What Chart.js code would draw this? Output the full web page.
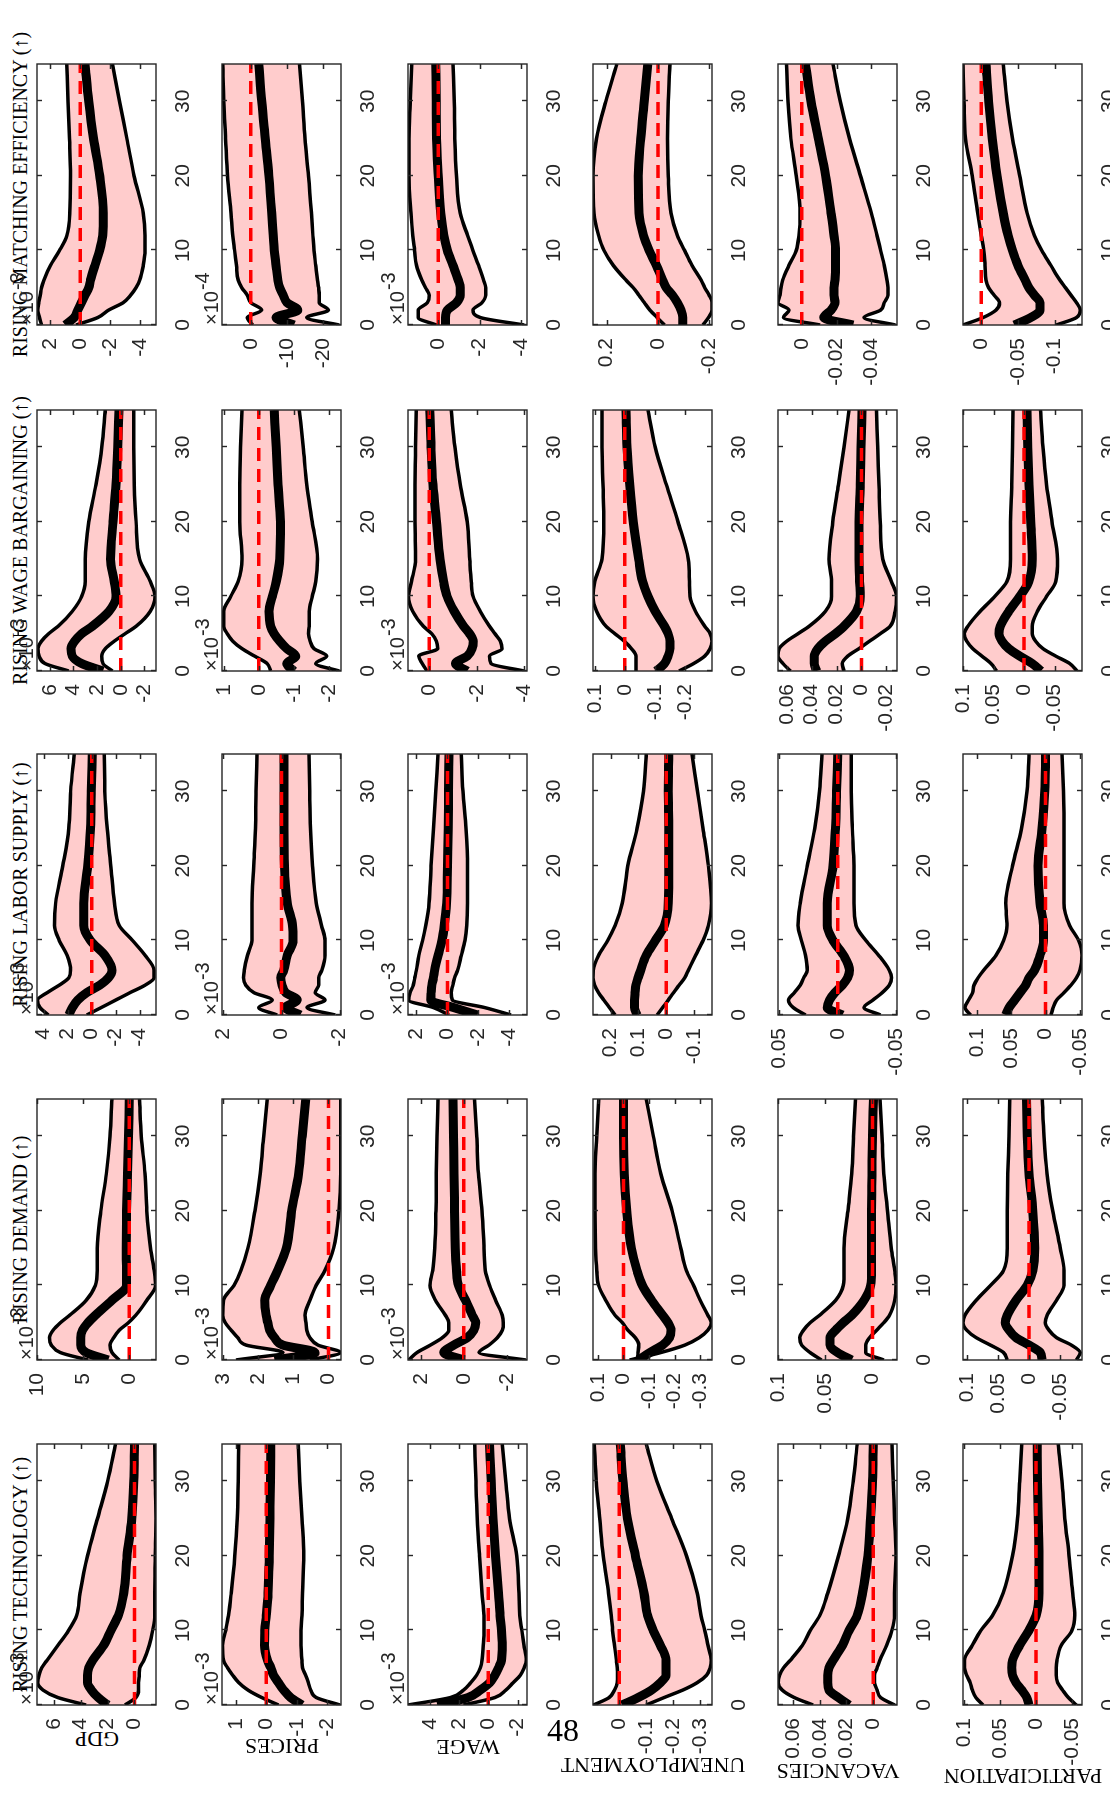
<!DOCTYPE html>
<html>
<head>
<meta charset="utf-8">
<script src="https://cdn.jsdelivr.net/npm/chart.js@4.4.1/dist/chart.umd.min.js"></script>
<style>
html, body { margin: 0; padding: 0; background: #fff; width: 1110px; height: 1796px; overflow: hidden; }
#fig { position: absolute; left: 0; top: 0; width: 1796px; height: 1110px; transform-origin: 0 0; transform: translate(0, 1796px) rotate(-90deg); }
#fig canvas { position: absolute; }
.ttl { position: absolute; font: 20px 'Liberation Serif', serif; line-height: 20px; height: 20px; text-align: center; white-space: nowrap; color: #000; }
.ylab { position: absolute; width: 240px; height: 22px; font: 22px 'Liberation Serif', serif; line-height: 22px; text-align: center; white-space: nowrap; color: #000; transform: rotate(-90deg); }
#pagenum { position: absolute; left: 530px; top: 1712px; width: 66px; text-align: center; font: 32px 'Liberation Serif', serif; line-height: 36px; color: #000; }
</style>
</head>
<body>
<div id="fig"></div>
<div id="pagenum">48</div>
<script>
const horizons = [0, 1, 2, 3, 4, 5, 6, 8, 10, 12, 15, 20, 25, 30, 35];

const shocks = ['RISING TECHNOLOGY (\u2191)', 'RISING DEMAND (\u2191)', 'RISING LABOR SUPPLY (\u2191)',
                'RISING WAGE BARGAINING (\u2191)', 'RISING MATCHING EFFICIENCY (\u2191)'];
const variables = ['GDP', 'PRICES', 'WAGE', 'UNEMPLOYMENT', 'VACANCIES', 'PARTICIPATION'];

// rows: GDP, PRICES, WAGE, UNEMPLOYMENT, VACANCIES, PARTICIPATION
const techHi = [
  [3.6, 5.7, 6.8, 7.2, 7.1, 6.9, 6.5, 5.7, 4.9, 4.3, 4.05, 3.5, 2.75, 2.0, 1.4],
  [-0.4, 0.15, 0.6, 0.9, 1.1, 1.27, 1.4, 1.43, 1.33, 1.24, 1.15, 1.03, 0.95, 0.92, 0.9],
  [5.5, 2.6, 1.7, 1.2, 0.8, 0.55, 0.43, 0.35, 0.3, 0.3, 0.43, 0.6, 0.75, 0.85, 0.93],
  [0.096, 0.038, 0.018, 0.008, 0.007, 0.008, 0.011, 0.018, 0.025, 0.03, 0.04, 0.06, 0.073, 0.086, 0.093],
  [0.045, 0.059, 0.068, 0.071, 0.07, 0.067, 0.062, 0.053, 0.047, 0.04, 0.034, 0.026, 0.019, 0.015, 0.012],
  [0.074, 0.084, 0.089, 0.092, 0.097, 0.1, 0.1, 0.089, 0.077, 0.061, 0.046, 0.033, 0.026, 0.023, 0.02]
];
const techMed = [
  [2.0, 2.7, 3.2, 3.5, 3.5, 3.4, 3.1, 2.3, 1.75, 1.2, 0.8, 0.55, 0.2, 0.05, 0.0],
  [-1.17, -0.8, -0.57, -0.4, -0.24, -0.15, -0.04, 0.06, 0.05, 0.0, -0.06, -0.1, -0.12, -0.14, -0.15],
  [3.5, 1.4, 0.55, -0.1, -0.45, -0.7, -0.9, -0.95, -0.9, -0.8, -0.7, -0.5, -0.33, -0.2, -0.08],
  [-0.01, -0.07, -0.12, -0.153, -0.174, -0.174, -0.174, -0.153, -0.126, -0.105, -0.092, -0.06, -0.03, -0.014, -0.003],
  [0.018, 0.026, 0.033, 0.034, 0.034, 0.033, 0.03, 0.023, 0.018, 0.012, 0.008, 0.004, 0.002, 0.0005, 0],
  [0.01, 0.013, 0.02, 0.028, 0.033, 0.034, 0.033, 0.023, 0.01, 0, -0.004, -0.004, -0.003, -0.002, -0.0015]
];
const techLo = [
  [0.7, -0.1, -0.3, -0.3, -0.35, -0.4, -0.7, -1.1, -1.35, -1.5, -1.5, -1.55, -1.6, -1.55, -1.5],
  [-2.42, -1.64, -1.46, -1.38, -1.29, -1.19, -1.17, -1.14, -1.14, -1.17, -1.19, -1.23, -1.17, -1.1, -1.05],
  [1.7, -0.45, -1.2, -1.7, -2.2, -2.45, -2.6, -2.45, -2.3, -2.15, -2.1, -1.95, -1.45, -1.2, -0.95],
  [-0.1, -0.167, -0.236, -0.29, -0.325, -0.338, -0.342, -0.33, -0.318, -0.304, -0.29, -0.25, -0.195, -0.14, -0.1],
  [-0.016, -0.0055, -0.003, -0.001, -0.001, -0.003, -0.005, -0.01, -0.014, -0.016, -0.016, -0.017, -0.016, -0.015, -0.014],
  [-0.056, -0.045, -0.037, -0.03, -0.028, -0.028, -0.029, -0.035, -0.05, -0.054, -0.051, -0.046, -0.04, -0.036, -0.031]
];

const demandHi = [
  [4.5, 7.5, 8.5, 8.7, 8.3, 7.5, 6.5, 4.7, 3.7, 3.5, 3.5, 3.1, 2.5, 2.1, 1.9],
  [2.64, 1.3, 2.35, 2.59, 2.78, 2.95, 3.02, 3.0, 2.7, 2.5, 2.3, 2.1, 1.95, 1.85, 1.75],
  [2.57, 2.18, 1.56, 1.0, 0.7, 0.7, 0.86, 1.32, 1.58, 1.45, 1.36, 1.3, 1.28, 1.25, 1.2],
  [-0.053, -0.057, -0.06, -0.046, -0.017, 0.004, 0.033, 0.069, 0.097, 0.104, 0.109, 0.111, 0.111, 0.104, 0.097],
  [0.054, 0.066, 0.075, 0.077, 0.073, 0.066, 0.056, 0.039, 0.031, 0.03, 0.03, 0.026, 0.022, 0.02, 0.018],
  [0.035, 0.041, 0.062, 0.085, 0.1, 0.106, 0.103, 0.085, 0.062, 0.041, 0.035, 0.035, 0.034, 0.032, 0.031]
];
const demandMed = [
  [2.3, 4.7, 5.3, 5.3, 5.1, 4.5, 3.7, 1.9, 0.3, 0.3, 0.35, 0.3, 0.2, 0.1, 0],
  [1.54, 0.38, 1.3, 1.54, 1.68, 1.73, 1.78, 1.82, 1.65, 1.45, 1.2, 1.05, 0.85, 0.75, 0.65],
  [0.0, 0.93, 0.47, -0.16, -0.47, -0.55, -0.39, -0.08, 0.25, 0.34, 0.4, 0.43, 0.46, 0.48, 0.5],
  [-0.06, -0.103, -0.153, -0.18, -0.186, -0.174, -0.153, -0.11, -0.074, -0.053, -0.031, -0.013, -0.003, 0, 0],
  [0.022, 0.037, 0.045, 0.045, 0.039, 0.031, 0.022, 0.009, 0.002, 0.001, 0.001, 0.001, 0.0005, 0, -0.001],
  [-0.021, -0.018, 0, 0.021, 0.032, 0.038, 0.035, 0.021, 0.003, -0.006, -0.009, -0.006, 0, 0.003, 0.004]
];
const demandLo = [
  [1.1, 1.9, 2.1, 1.7, 1.1, 0.1, -0.7, -1.9, -2.85, -2.7, -2.3, -1.9, -1.7, -1.3, -1.1],
  [0.53, -0.34, 0.3, 0.53, 0.62, 0.64, 0.67, 0.53, 0.35, 0.1, -0.15, -0.3, -0.35, -0.35, -0.35],
  [-2.88, -0.7, -1.17, -1.56, -1.79, -1.84, -1.79, -1.48, -1.2, -1.0, -0.94, -0.85, -0.68, -0.6, -0.5],
  [-0.024, -0.146, -0.24, -0.296, -0.33, -0.343, -0.33, -0.3, -0.274, -0.246, -0.224, -0.19, -0.146, -0.117, -0.089],
  [-0.012, 0.007, 0.007, 0.003, -0.0045, -0.012, -0.018, -0.0235, -0.025, -0.0235, -0.02, -0.016, -0.012, -0.01, -0.008],
  [-0.076, -0.082, -0.068, -0.044, -0.032, -0.026, -0.029, -0.044, -0.056, -0.056, -0.05, -0.038, -0.029, -0.024, -0.021]
];

const laborHi = [
  [3.6, 4.3, 4.5, 3.7, 2.7, 1.9, 1.75, 2.05, 2.7, 3.1, 3.0, 2.4, 1.9, 1.75, 1.45],
  [0.15, 0.78, 0.32, 0.95, 1.23, 1.31, 1.28, 1.17, 1.02, 1.02, 1.02, 0.96, 0.9, 0.88, 0.84],
  [-0.1, 0.9, 2.49, 2.4, 2.2, 2.1, 2.0, 1.84, 1.6, 1.4, 1.18, 1.06, 0.9, 0.75, 0.6],
  [0.184, 0.204, 0.224, 0.243, 0.257, 0.263, 0.262, 0.243, 0.21, 0.184, 0.158, 0.138, 0.105, 0.082, 0.072],
  [0.0275, 0.038, 0.042, 0.037, 0.032, 0.029, 0.026, 0.0275, 0.031, 0.034, 0.032, 0.026, 0.0197, 0.0156, 0.0134],
  [0.109, 0.117, 0.112, 0.106, 0.104, 0.098, 0.09, 0.072, 0.061, 0.056, 0.058, 0.048, 0.035, 0.027, 0.024]
];
const laborMed = [
  [1.9, 1.6, 1.15, 0.4, -0.67, -1.4, -1.7, -1.1, 0.1, 0.65, 0.65, 0.33, 0.1, 0.03, -0.05],
  [-0.65, -0.14, -0.54, -0.14, -0.02, 0.03, -0.08, -0.2, -0.4, -0.38, -0.2, -0.1, -0.09, -0.09, -0.09],
  [-1.94, -0.4, 1.08, 1.05, 1.0, 0.9, 0.82, 0.6, 0.35, 0.2, 0.05, 0, -0.05, -0.07, -0.1],
  [0.105, 0.114, 0.114, 0.112, 0.109, 0.101, 0.092, 0.072, 0.039, 0.007, -0.007, -0.009, -0.009, -0.007, -0.009],
  [-0.004, 0.009, 0.007, 0.0025, -0.004, -0.0084, -0.01, -0.005, 0.004, 0.009, 0.009, 0.004, 0.002, 0.001, 0],
  [0.058, 0.053, 0.045, 0.037, 0.029, 0.024, 0.016, 0.008, 0.003, 0.003, 0.008, 0.011, 0.005, 0.001, 0]
];
const laborLo = [
  [0.4, -0.8, -2.0, -3.2, -4.45, -5.2, -5.2, -4.45, -3.4, -2.3, -1.9, -1.6, -1.3, -1.1, -1.05],
  [-1.85, -0.88, -1.5, -1.16, -1.28, -1.28, -1.39, -1.5, -1.5, -1.38, -1.2, -1.07, -1.0, -0.97, -0.95],
  [-4.1, -2.4, -0.32, -0.24, -0.35, -0.47, -0.66, -0.9, -1.13, -1.25, -1.3, -1.3, -1.2, -1.0, -0.9],
  [0.033, 0.013, -0.007, -0.026, -0.046, -0.066, -0.079, -0.105, -0.132, -0.151, -0.162, -0.151, -0.132, -0.112, -0.092],
  [-0.0366, -0.0225, -0.03, -0.038, -0.044, -0.046, -0.044, -0.035, -0.024, -0.0156, -0.0138, -0.0138, -0.0125, -0.0116, -0.0116],
  [-0.008, -0.011, -0.016, -0.027, -0.037, -0.045, -0.05, -0.053, -0.048, -0.035, -0.027, -0.027, -0.027, -0.026, -0.024]
];

const bargHi = [
  [4.4, 6.4, 6.9, 7.0, 6.7, 6.1, 5.3, 4.1, 3.3, 3.0, 3.0, 2.7, 2.1, 1.6, 1.3],
  [-0.34, -0.24, 0.12, 0.48, 0.74, 0.9, 1.0, 1.0, 0.8, 0.59, 0.48, 0.54, 0.54, 0.52, 0.48],
  [0.1, 0.3, 0.45, -0.35, -0.3, -0.1, 0.25, 0.7, 0.88, 0.75, 0.58, 0.6, 0.6, 0.58, 0.55],
  [-0.037, -0.037, -0.037, -0.022, 0.002, 0.033, 0.063, 0.094, 0.106, 0.1, 0.076, 0.07, 0.073, 0.076, 0.076],
  [0.057, 0.063, 0.067, 0.066, 0.06, 0.051, 0.042, 0.029, 0.024, 0.024, 0.026, 0.023, 0.0185, 0.014, 0.01],
  [0.045, 0.054, 0.069, 0.084, 0.094, 0.098, 0.092, 0.072, 0.048, 0.028, 0.022, 0.022, 0.02, 0.019, 0.018]
];
const bargMed = [
  [1.5, 3.3, 4.1, 4.2, 3.9, 3.3, 2.4, 1.0, 0.4, 0.55, 0.86, 0.65, 0.4, 0.25, 0.15],
  [-1.0, -0.8, -1.06, -0.8, -0.6, -0.44, -0.34, -0.29, -0.39, -0.5, -0.6, -0.62, -0.55, -0.5, -0.44],
  [-1.6, -1.1, -1.6, -1.8, -1.85, -1.7, -1.45, -1.05, -0.75, -0.6, -0.45, -0.3, -0.15, -0.07, -0.02],
  [-0.105, -0.132, -0.144, -0.15, -0.15, -0.144, -0.132, -0.101, -0.077, -0.059, -0.046, -0.028, -0.016, -0.007, -0.004],
  [0.036, 0.038, 0.038, 0.035, 0.029, 0.021, 0.014, 0.004, 0.001, 0.0015, 0.002, 0.002, 0.001, 0.0003, -0.0005],
  [-0.028, -0.0135, 0.007, 0.025, 0.036, 0.041, 0.039, 0.025, 0.007, -0.008, -0.0135, -0.011, -0.008, -0.006, -0.005]
];
const bargLo = [
  [0.7, 1.5, 1.6, 1.3, 0.55, -0.37, -1.3, -2.5, -2.9, -2.5, -1.6, -1.3, -1.15, -1.1, -1.1],
  [-2.3, -1.63, -1.94, -1.58, -1.47, -1.42, -1.44, -1.44, -1.53, -1.63, -1.68, -1.53, -1.37, -1.27, -1.16],
  [-4.0, -2.6, -2.54, -3.07, -3.0, -2.77, -2.54, -2.15, -1.85, -1.77, -1.7, -1.6, -1.3, -1.08, -0.92],
  [-0.18, -0.229, -0.266, -0.284, -0.29, -0.284, -0.266, -0.235, -0.217, -0.215, -0.211, -0.177, -0.138, -0.101, -0.077],
  [0.014, 0.0155, 0.011, 0.002, -0.0065, -0.015, -0.023, -0.027, -0.028, -0.024, -0.017, -0.015, -0.014, -0.013, -0.012],
  [-0.087, -0.075, -0.052, -0.031, -0.019, -0.0135, -0.0135, -0.022, -0.037, -0.052, -0.055, -0.046, -0.037, -0.031, -0.027]
];

const matchHi = [
  [2.6, 2.73, 2.85, 2.78, 2.68, 2.6, 2.44, 2.0, 1.39, 0.9, 0.7, 0.66, 0.73, 0.83, 0.9],
  [-0.5, 1.0, -3.0, 0, 1.0, 2.5, 3.5, 4.0, 4.5, 5.0, 5.5, 6.5, 7.0, 7.5, 7.8],
  [0.09, 0.97, 0.97, 0.53, 0.44, 0.62, 0.8, 1.06, 1.15, 1.24, 1.33, 1.42, 1.42, 1.36, 1.29],
  [-0.026, 0.003, 0.031, 0.053, 0.074, 0.096, 0.124, 0.174, 0.21, 0.231, 0.249, 0.253, 0.239, 0.203, 0.16],
  [-0.0105, 0.0105, 0.0074, 0.0137, 0.0126, 0.012, 0.011, 0.0074, 0.0032, 0.0017, 0.001, 0.0032, 0.0063, 0.008, 0.0088],
  [0.025, -0.0025, -0.02, -0.025, -0.0175, -0.01, -0.0065, -0.005, -0.0035, 0, 0.005, 0.0125, 0.0215, 0.0235, 0.025]
];
const matchMed = [
  [1.0, 0.41, 0.17, -0.07, -0.32, -0.56, -0.68, -0.98, -1.3, -1.5, -1.54, -1.3, -0.88, -0.56, -0.32],
  [-12, -7, -13, -10, -9, -8, -7.5, -7, -6.5, -6.2, -5.8, -5, -4, -3, -2.2],
  [-0.35, -0.35, -0.44, -0.88, -1.06, -1.06, -0.97, -0.71, -0.44, -0.27, -0.12, 0, 0.09, 0.1, 0.12],
  [-0.097, -0.097, -0.09, -0.076, -0.057, -0.033, -0.019, 0.006, 0.034, 0.056, 0.074, 0.077, 0.067, 0.053, 0.039],
  [-0.0295, -0.0126, -0.0168, -0.019, -0.0185, -0.0185, -0.019, -0.0194, -0.0194, -0.0185, -0.0168, -0.0137, -0.0095, -0.0053, -0.0021],
  [-0.045, -0.0675, -0.08, -0.08, -0.0725, -0.065, -0.06, -0.05, -0.0425, -0.0365, -0.03, -0.0215, -0.015, -0.01, -0.0065]
];
const matchLo = [
  [0.29, -1.17, -1.9, -2.88, -3.37, -3.73, -3.98, -4.22, -4.34, -4.34, -4.22, -3.6, -3.12, -2.63, -2.15],
  [-24.5, -15.5, -21.5, -19, -19, -18.8, -18.5, -18, -17.5, -17.2, -16.8, -16, -15, -14.3, -13.5],
  [-4.16, -2.04, -1.68, -2.12, -2.3, -2.3, -2.2, -1.95, -1.68, -1.42, -1.06, -0.88, -0.8, -0.77, -0.71],
  [-0.176, -0.197, -0.211, -0.211, -0.2, -0.183, -0.169, -0.133, -0.104, -0.076, -0.051, -0.04, -0.037, -0.04, -0.047],
  [-0.0537, -0.0358, -0.0453, -0.0474, -0.0495, -0.0495, -0.049, -0.0474, -0.0453, -0.0432, -0.04, -0.0337, -0.0274, -0.0221, -0.0179],
  [-0.1025, -0.13, -0.135, -0.13, -0.1225, -0.115, -0.1075, -0.095, -0.0825, -0.0725, -0.0625, -0.0525, -0.0425, -0.035, -0.03]
];

const bandHi = [techHi, demandHi, laborHi, bargHi, matchHi];
const bandMed = [techMed, demandMed, laborMed, bargMed, matchMed];
const bandLo = [techLo, demandLo, laborLo, bargLo, matchLo];

// value axis limits, tick step and the x10^n factor, [shock][variable]
const axisMin = [
  [-1.6, -2.45, -2.65, -0.345, -0.0178, -0.064],
  [-2.9, -0.36, -2.94, -0.346, -0.026, -0.085],
  [-5.36, -2.05, -5.13, -0.164, -0.0506, -0.053],
  [-2.98, -2.35, -4.12, -0.29, -0.0285, -0.095],
  [-5.07, -25, -4.3, -0.211, -0.0547, -0.1375]
];
const axisMax = [
  [7.25, 1.45, 5.5, 0.098, 0.0712, 0.102],
  [10.05, 3.04, 2.6, 0.119, 0.1, 0.106],
  [4.55, 2.05, 2.54, 0.263, 0.051, 0.12],
  [7.08, 1.05, 0.9, 0.106, 0.067, 0.1],
  [2.9, 8, 1.47, 0.253, 0.0137, 0.025]
];
const tickStep = [
  [2, 1, 2, 0.1, 0.02, 0.05],
  [5, 1, 2, 0.1, 0.05, 0.05],
  [2, 2, 2, 0.1, 0.05, 0.05],
  [2, 1, 2, 0.1, 0.02, 0.05],
  [2, 10, 2, 0.2, 0.02, 0.05]
];
const expo = [
  [-3, -3, -3, null, null, null],
  [-3, -3, -3, null, null, null],
  [-3, -3, -3, null, null, null],
  [-3, -3, -3, null, null, null],
  [-3, -4, -3, null, null, null]
];

// layout of the landscape figure (before it is turned on the page)
const colLeft = [91, 436, 781, 1125, 1471];
const rowTop = [37, 222, 408, 593, 778, 963];
const ylabPos = [57, 50, 49, 31, 25, 20];
const plotW = 261, plotH = 119;
const PL = 80, PT = 34, PR = 8, PB = 46;
const axisColor = '#262626';
const tickFont = { family: "'Liberation Sans', Arial, sans-serif", size: 21 };

const fmt = v => String(parseFloat(Number(v).toFixed(6)));

const boxPlugin = {
  id: 'box',
  afterDatasetsDraw(chart, args, opts) {
    const { ctx, chartArea: a } = chart;
    const xs = chart.scales.x, ys = chart.scales.y;
    ctx.save();
    ctx.strokeStyle = axisColor;
    ctx.lineWidth = 1.4;
    ctx.beginPath();
    xs.ticks.forEach(t => {
      const p = Math.round(xs.getPixelForValue(t.value)) + 0.5;
      ctx.moveTo(p, a.bottom); ctx.lineTo(p, a.bottom - 5);
      ctx.moveTo(p, a.top); ctx.lineTo(p, a.top + 5);
    });
    ys.ticks.forEach(t => {
      const p = Math.round(ys.getPixelForValue(t.value)) + 0.5;
      ctx.moveTo(a.left, p); ctx.lineTo(a.left + 5, p);
      ctx.moveTo(a.right, p); ctx.lineTo(a.right - 5, p);
    });
    ctx.stroke();
    ctx.strokeRect(a.left, a.top, a.right - a.left, a.bottom - a.top);
    if (opts.exp !== null && opts.exp !== undefined) {
      ctx.fillStyle = axisColor;
      ctx.font = "20px 'Liberation Sans', Arial, sans-serif";
      ctx.textBaseline = 'alphabetic';
      ctx.fillText('\u00d710', a.left, a.top - 4);
      const w = ctx.measureText('\u00d710').width;
      ctx.fillText(String(opts.exp), a.left + w + 1, a.top - 13);
    }
    ctx.restore();
  }
};

const fig = document.getElementById('fig');

shocks.forEach((shock, j) => {
  const t = document.createElement('div');
  t.className = 'ttl';
  t.textContent = shock;
  t.style.left = (colLeft[j] - 60) + 'px';
  t.style.width = (plotW + 120) + 'px';
  t.style.top = '10px';
  fig.appendChild(t);

  variables.forEach((name, i) => {
    if (j === 0) {
      const yl = document.createElement('div');
      yl.className = 'ylab';
      yl.textContent = name;
      yl.style.left = (ylabPos[i] - 120) + 'px';
      yl.style.top = (rowTop[i] + plotH / 2 - 11) + 'px';
      fig.appendChild(yl);
    }
    const cv = document.createElement('canvas');
    cv.width = PL + plotW + PR;
    cv.height = PT + plotH + PB;
    cv.style.left = (colLeft[j] - PL) + 'px';
    cv.style.top = (rowTop[i] - PT) + 'px';
    fig.appendChild(cv);

    const pts = arr => horizons.map((h, k) => ({ x: h, y: arr[k] }));
    new Chart(cv, {
      type: 'line',
      data: {
        datasets: [
          { data: pts(bandHi[j][i]), borderColor: '#000', borderWidth: 3.5, backgroundColor: '#ffcccc', fill: 2, order: 2 },
          { data: pts(bandMed[j][i]), borderColor: '#000', borderWidth: 9, fill: false, order: 1 },
          { data: pts(bandLo[j][i]), borderColor: '#000', borderWidth: 3.5, fill: false, order: 3 },
          { data: [{ x: 0, y: 0 }, { x: 35, y: 0 }], borderColor: '#ff0000', borderWidth: 3.5, borderDash: [13, 8], fill: false, order: 0, cubicInterpolationMode: 'default', tension: 0 }
        ]
      },
      options: {
        responsive: false,
        maintainAspectRatio: false,
        animation: false,
        events: [],
        layout: { padding: { top: PT, right: PR, left: 0, bottom: 0 } },
        elements: {
          point: { radius: 0 },
          line: { cubicInterpolationMode: 'monotone', borderJoinStyle: 'round', borderCapStyle: 'butt' }
        },
        datasets: { line: { clip: 0 } },
        plugins: {
          legend: { display: false },
          tooltip: { enabled: false },
          filler: { drawTime: 'beforeDatasetsDraw' },
          box: { exp: expo[j][i] }
        },
        scales: {
          x: {
            type: 'linear', min: 0, max: 35,
            grid: { display: false }, border: { display: false },
            afterFit: s => { s.height = PB; },
            ticks: { stepSize: 10, includeBounds: false, autoSkip: false, maxRotation: 0, minRotation: 0, padding: 7, color: axisColor, font: tickFont, callback: fmt }
          },
          y: {
            type: 'linear', min: axisMin[j][i], max: axisMax[j][i],
            grid: { display: false }, border: { display: false },
            afterFit: s => { s.width = PL; },
            ticks: { stepSize: tickStep[j][i], includeBounds: false, autoSkip: false, padding: 5, color: axisColor, font: tickFont, callback: fmt }
          }
        }
      },
      plugins: [boxPlugin]
    });
  });
});
</script>
</body>
</html>
